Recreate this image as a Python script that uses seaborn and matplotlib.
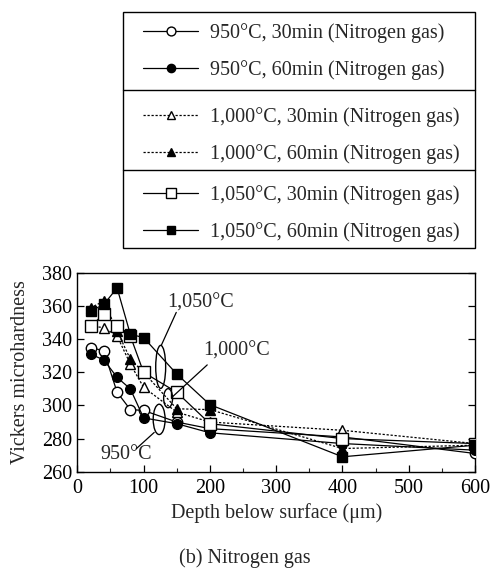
import matplotlib
matplotlib.use("Agg")
import matplotlib.pyplot as plt
import seaborn as sns
import pandas as pd
from matplotlib.lines import Line2D
from matplotlib.patches import Ellipse, Rectangle
from matplotlib.ticker import MultipleLocator

# ---- data ----
depths = [20, 40, 60, 80, 100, 150, 200, 400, 600]
hv_950_30 = [335, 333, 308, 297.5, 297, 290, 286, 281, 271]
hv_950_60 = [331, 327.5, 317, 310, 292.5, 289, 283.5, 277, 273]
hv_1000_30 = [348, 347, 342, 325, 311, 296, 290, 285, 277]
hv_1000_60 = [359, 363, 345, 328, 320, 298, 297.5, 274, 276]
hv_1050_30 = [348, 355, 348, 342, 320, 308, 289, 280, 277]
hv_1050_60 = [357, 361, 371, 343, 341, 319, 300.5, 269, 276]

labels = [
    "950°C, 30min (Nitrogen gas)",
    "950°C, 60min (Nitrogen gas)",
    "1,000°C, 30min (Nitrogen gas)",
    "1,000°C, 60min (Nitrogen gas)",
    "1,050°C, 30min (Nitrogen gas)",
    "1,050°C, 60min (Nitrogen gas)",
]
series = [hv_950_30, hv_950_60, hv_1000_30, hv_1000_60, hv_1050_30, hv_1050_60]
markers = ["o", "o", "^", "^", "s", "s"]
fills = ["white", "black", "white", "black", "white", "black"]
dotted = (0, (1.8, 1.4))
styles = ["-", "-", dotted, dotted, "-", "-"]
msizes = [7.5, 7, 7.5, 7, 8, 7.5]

x_ticks = [0, 100, 200, 300, 400, 500, 600]
y_ticks = [260, 280, 300, 320, 340, 360, 380]

sns.set_theme(style="ticks")
plt.rcParams["font.family"] = ["Liberation Serif", "DejaVu Serif"]
plt.rcParams["mathtext.fontset"] = "stix"

fig = plt.figure(figsize=(4.9, 5.7), dpi=100)
ax = fig.add_axes([77.3 / 490, 1 - 471.7 / 570, (475 - 77.3) / 490, (471.7 - 273) / 570])

handles = []
for vals, lab, mk, fc, ls, ms in zip(series, labels, markers, fills, styles, msizes):
    df = pd.DataFrame({"depth": depths, "hv": vals})
    sns.lineplot(data=df, x="depth", y="hv", ax=ax, color="black", linestyle=ls,
                 linewidth=0.9, marker=mk, markersize=ms, markerfacecolor=fc,
                 markeredgecolor="black", markeredgewidth=1.0, zorder=3)
    handles.append(Line2D([], [], color="black", linestyle=ls, linewidth=0.9,
                          marker=mk, markersize=ms * 0.85, markerfacecolor=fc,
                          markeredgecolor="black", markeredgewidth=1.0))

ax.set_xlim(0, 600)
ax.set_ylim(260, 380)
ax.set_xticks(x_ticks)
ax.set_yticks(y_ticks)
ax.xaxis.set_minor_locator(MultipleLocator(50))
ax.tick_params(axis="both", which="major", direction="in", length=5, width=0.9,
               labelsize=14.5, top=False, right=True, colors="black")
ax.tick_params(axis="x", which="minor", direction="in", length=3, width=0.8, top=False)
ax.tick_params(axis="x", which="major", pad=5)
for sp in ax.spines.values():
    sp.set_linewidth(1.0)
    sp.set_color("black")
ax.set_xlabel("Depth below surface (μm)", fontsize=14.5, labelpad=4)
ax.set_ylabel("Vickers microhardness", fontsize=14.5, labelpad=9)

# ellipses grouping the temperatures
ax.add_patch(Ellipse((125.8, 323.3), 15, 26, fill=False, edgecolor="black", linewidth=1.0, zorder=4))
ax.add_patch(Ellipse((137, 304.4), 13.5, 11.5, fill=False, edgecolor="black", linewidth=1.0, zorder=4))
ax.add_patch(Ellipse((123.5, 291.6), 18, 18.3, fill=False, edgecolor="black", linewidth=1.0, zorder=4))

ax.text(185.5, 361.7, "1,050°C", fontsize=14.5, ha="center", va="center")
ax.text(239.8, 333, "1,000°C", fontsize=14.5, ha="center", va="center")
ax.text(73.9, 270.5, "950°C", fontsize=14.5, ha="center", va="center")
ax.annotate("", xy=(126.7, 336.3), xytext=(149.3, 356.2),
            arrowprops=dict(arrowstyle="-", color="black", linewidth=0.9, shrinkA=0, shrinkB=0))
ax.annotate("", xy=(143.5, 305.2), xytext=(196, 324.5),
            arrowprops=dict(arrowstyle="-", color="black", linewidth=0.9, shrinkA=0, shrinkB=0))
ax.annotate("", xy=(116, 283.7), xytext=(89, 273.9),
            arrowprops=dict(arrowstyle="-", color="black", linewidth=0.9, shrinkA=0, shrinkB=0))

# legend box with three groups
fig.add_artist(Rectangle((123 / 490, 1 - 248 / 570), 352 / 490, 236 / 570,
                         transform=fig.transFigure, fill=False, edgecolor="black", linewidth=1.0))
for yy in (90, 170):
    fig.add_artist(Line2D([123 / 490, 475 / 490], [1 - yy / 570, 1 - yy / 570],
                          transform=fig.transFigure, color="black", linewidth=1.0))
centers = [51.5, 135.5, 213.5]
for g, cy in enumerate(centers):
    fig.legend(handles[2 * g:2 * g + 2], labels[2 * g:2 * g + 2], loc="center left",
               bbox_to_anchor=(143 / 490, 1 - cy / 570), frameon=False, fontsize=14.5,
               handlelength=2.75, handletextpad=0.6, labelspacing=0.85, borderpad=0,
               borderaxespad=0)

fig.text(0.5, 1 - 558 / 570, "(b) Nitrogen gas", fontsize=14.5, ha="center", va="center")

fig.savefig("out.png", dpi=100, facecolor="white")
